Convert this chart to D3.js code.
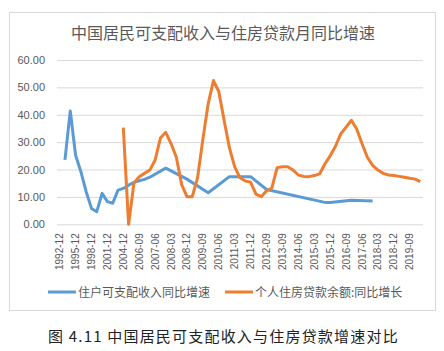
<!DOCTYPE html>
<html>
<head>
<meta charset="UTF-8">
<title>chart</title>
<script src="https://cdn.jsdelivr.net/npm/d3@7"></script>
<style>
  body { margin: 0; background: #fff; }
  svg { display: block; font-family: "Liberation Sans", Arial, sans-serif; }
  .cn { font-family: "Noto Sans CJK SC", sans-serif; }
</style>
</head>
<body>
<div id="chart"></div>
<script>
// categories: annual to 2004-12, then quarterly (2013-03 missing)
var categories = [
  "1992-12","1993-12","1994-12","1995-12","1996-12","1997-12","1998-12","1999-12",
  "2000-12","2001-12","2002-12","2003-12","2004-12","2006-03","2006-06","2006-09",
  "2006-12","2007-03","2007-06","2007-09","2007-12","2008-03","2008-06","2008-09",
  "2008-12","2009-03","2009-06","2009-09","2009-12","2010-03","2010-06","2010-09",
  "2010-12","2011-03","2011-06","2011-09","2011-12","2012-03","2012-06","2012-09",
  "2012-12","2013-06","2013-09","2013-12","2014-03","2014-06","2014-09","2014-12",
  "2015-03","2015-06","2015-09","2015-12","2016-03","2016-06","2016-09","2016-12",
  "2017-03","2017-06","2017-09","2017-12","2018-03","2018-06","2018-09","2018-12",
  "2019-03","2019-06","2019-09","2019-12","2020-03"
];

// 住户可支配收入同比增速 (null = no point, line joins neighbours)
var income = [
  null, 23.5, 41.4, 25.3, 19.2, 11.9, 5.8, 4.6, 11.3, 8.3, 7.7, 12.5, 13.1, 14.3, 15.3, 15.9,
  16.4, 17.2, null, null, 20.5, null, null, null, 16.5, null, null, null, 11.5, null, null, null,
  17.4, null, null, null, 17.4, null, null, 12.7, null, null, null, null, null, null, null, null,
  null, null, 8.0, 8.0, null, null, null, 8.8, null, null, null, 8.5, null, null, null, null,
  null, null, null, null, null
];

// 个人住房贷款余额:同比增长
var loan = [
  null, null, null, null, null, null, null, null, null, null, null, null, 35.3, 0.0, 15.0, 17.4,
  18.6, 19.8, 23.5, 31.5, 33.6, 29.5, 24.5, 14.5, 10.1, 10.1, 17.0, 31.0, 44.0, 52.5, 48.5, 38.0,
  28.0, 21.0, 17.0, 15.8, 15.4, 11.0, 10.1, 12.2, 13.2, 20.7, 21.0, 21.0, 19.8, 18.0, 17.5, 17.4,
  17.8, 18.4, 22.0, 25.0, 28.5, 33.0, 35.5, 38.0, 34.8, 29.5, 24.5, 21.5, 19.8, 18.6, 18.0, 17.8,
  17.5, 17.2, 16.8, 16.5, 15.6
];

var yTicks = [0, 10, 20, 30, 40, 50, 60];

(function() {
  var W = 444, H = 351;
  var pLeft = 57, pRight = 423, pTop = 60, pBottom = 224.3;
  var blue = "#5b9bd5", orange = "#ed7d31", grid = "#d9d9d9", txt = "#595959";

  var svg = d3.select("#chart").append("svg")
    .attr("width", W).attr("height", H);

  // chart frame
  svg.append("rect")
    .attr("x", 9.5).attr("y", 12.5).attr("width", 426).attr("height", 298)
    .attr("fill", "#fff").attr("stroke", grid);

  svg.append("text").attr("class", "cn")
    .attr("x", 223).attr("y", 39)
    .attr("text-anchor", "middle")
    .attr("font-size", 16).attr("fill", txt)
    .text("中国居民可支配收入与住房贷款月同比增速");

  var x = d3.scaleBand().domain(categories).range([pLeft, pRight]);
  var y = d3.scaleLinear().domain([0, 60]).range([pBottom, pTop]);

  // grid + y labels
  var yAxis = d3.axisLeft(y).tickValues(yTicks).tickSize(-(pRight - pLeft))
    .tickFormat(d3.format(".2f")).tickPadding(12);
  var gy = svg.append("g").attr("transform", "translate(" + pLeft + ",0)").call(yAxis);
  gy.select(".domain").remove();
  gy.selectAll("line").attr("stroke", grid);
  gy.selectAll("text").attr("fill", txt).attr("font-size", 11);

  // x labels, every 3rd category
  var xAxis = d3.axisBottom(x)
    .tickValues(categories.filter(function(d, i) { return i % 3 == 0; }))
    .tickSize(0).tickPadding(0);
  var gx = svg.append("g").attr("transform", "translate(0," + pBottom + ")").call(xAxis);
  gx.select(".domain").remove();
  gx.selectAll("text")
    .attr("fill", txt).attr("font-size", 10)
    .attr("transform", "rotate(-90)")
    .attr("text-anchor", "end")
    .attr("x", -9).attr("y", 0).attr("dy", "0.35em");

  function series(vals) {
    var pts = [];
    vals.forEach(function(v, i) {
      if (v != null) pts.push([x(categories[i]) + x.bandwidth() / 2, y(v)]);
    });
    return pts;
  }

  var line = d3.line();
  [[income, blue], [loan, orange]].forEach(function(s) {
    svg.append("path")
      .attr("d", line(series(s[0])))
      .attr("fill", "none")
      .attr("stroke", s[1])
      .attr("stroke-width", 3)
      .attr("stroke-linejoin", "round");
  });

  // legend
  var legend = [["住户可支配收入同比增速", blue, 48], ["个人住房贷款余额:同比增长", orange, 225]];
  legend.forEach(function(l) {
    svg.append("line")
      .attr("x1", l[2]).attr("x2", l[2] + 28).attr("y1", 292).attr("y2", 292)
      .attr("stroke", l[1]).attr("stroke-width", 3);
    svg.append("text").attr("class", "cn")
      .attr("x", l[2] + 30).attr("y", 296.5)
      .attr("font-size", 12).attr("fill", txt)
      .text(l[0]);
  });

  // caption
  svg.append("text").attr("class", "cn")
    .attr("x", 48).attr("y", 342)
    .attr("font-size", 15).attr("fill", "#222")
    .attr("letter-spacing", 1.2)
    .text("图 4.11 中国居民可支配收入与住房贷款增速对比");
})();
</script>
</body>
</html>
